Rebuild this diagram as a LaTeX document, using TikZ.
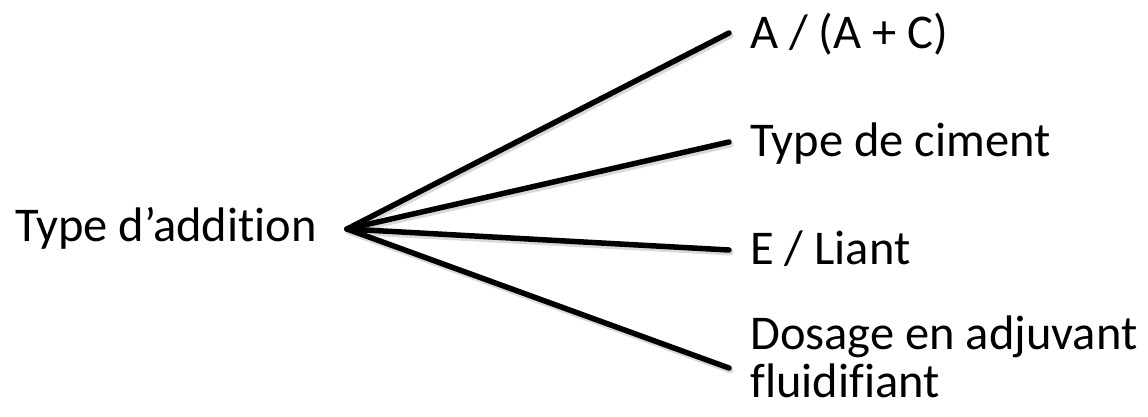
\documentclass[tikz,border=0pt]{standalone}
\usepackage{fontspec}
\setmainfont{Carlito}[Ligatures=NoCommon]
\usepackage{tikz}
\usetikzlibrary{positioning}

\begin{document}
\begin{tikzpicture}[x=1pt,y=-1pt,
  font=\fontsize{48.5}{48}\selectfont,
  leaf/.style={anchor=base west,inner sep=0pt,align=left},
  branch/.style={line width=5.5pt,line cap=round},
  halo/.style={line width=6pt,line cap=round,black!15}]
\useasboundingbox (0,0) rectangle (1148,416);
% Root
\node[anchor=base east,inner sep=0pt] (root) at (317,241) {Type d’addition};
\coordinate (hub) at (347,229);
% Leaves
\node[leaf] (ratio) at (750,48) {A / (A + C)};
\node[leaf] (ciment) at (750,156) {Type de ciment};
\node[leaf] (liant) at (750,264) {E / Liant};
\node[leaf] (dosage) at (750,397) {Dosage en adjuvant\\fluidifiant};
% Branch ends
\coordinate (e1) at (729,33);
\coordinate (e2) at (729,142);
\coordinate (e3) at (729,250);
\coordinate (e4) at (729,368);
% Branches, with a soft shadow
\foreach \e in {e1,e2,e3,e4}
  \draw[halo] ([shift={(1.5,2.5)}]hub) -- ([shift={(1.5,2.5)}]\e);
\foreach \e in {e1,e2,e3,e4}
  \draw[branch] (hub) -- (\e);
\end{tikzpicture}
\end{document}
